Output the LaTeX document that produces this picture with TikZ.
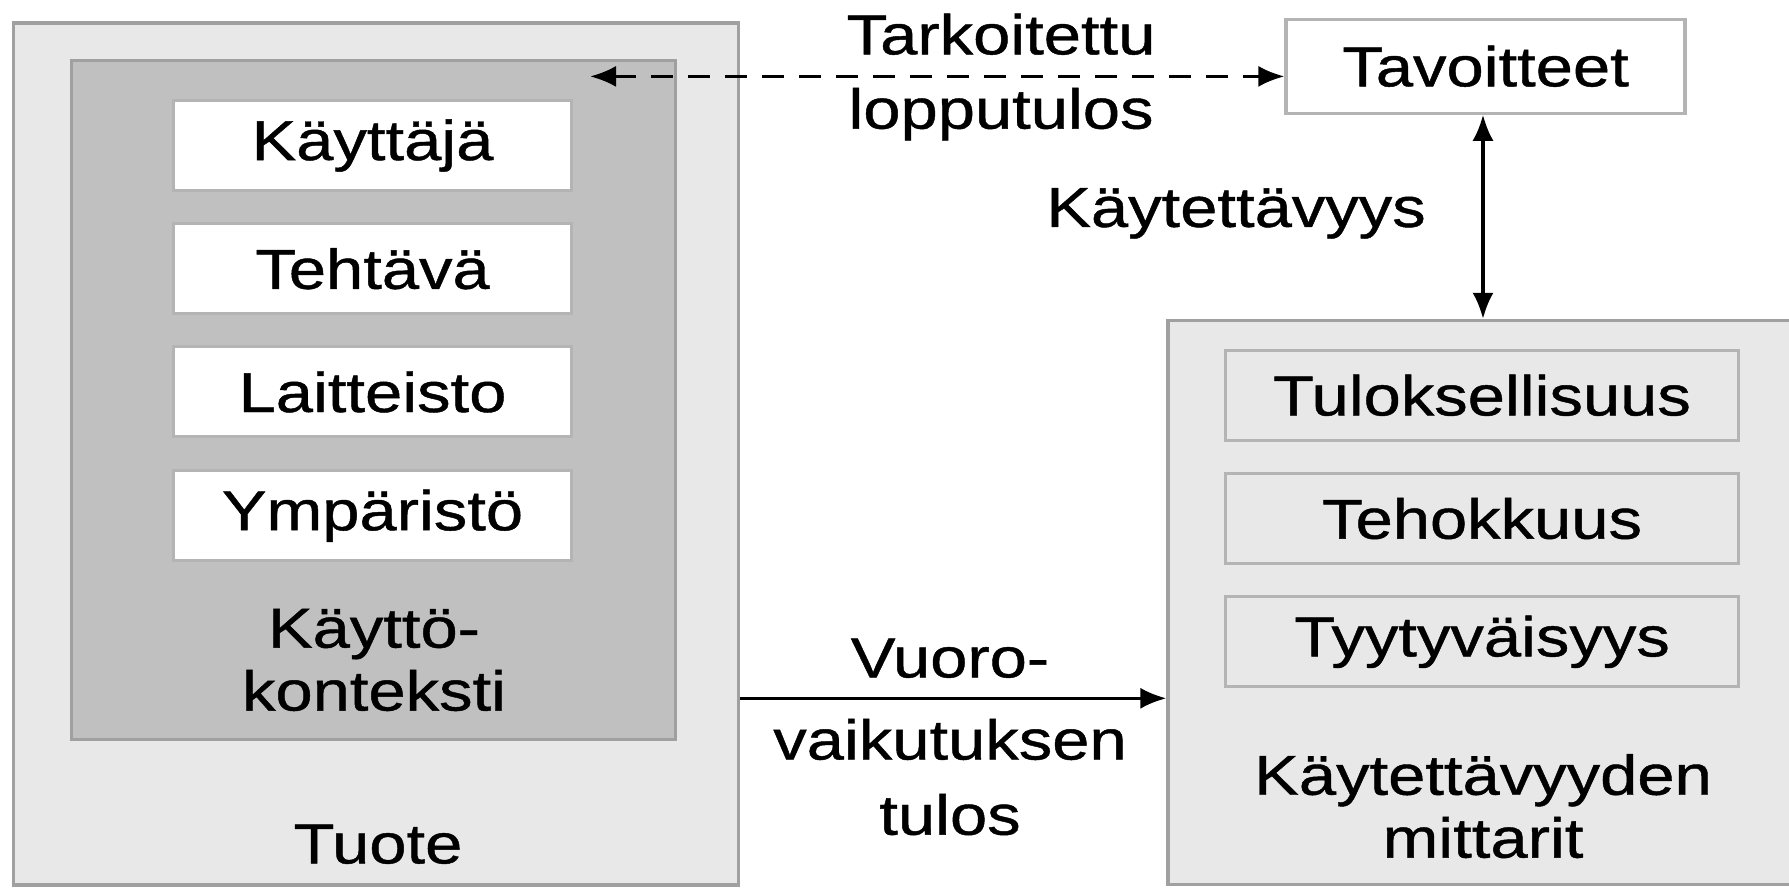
\documentclass[tikz,border=0pt]{standalone}
\usepackage{fontspec}
\setmainfont{Liberation Sans}[FakeStretch=1.19, FakeBold=0.8]
\usetikzlibrary{arrows.meta}

\definecolor{boxline}{HTML}{A0A0A0}
\definecolor{itemline}{HTML}{B4B4B4}
\definecolor{lightfill}{HTML}{E8E8E8}
\definecolor{darkfill}{HTML}{C0C0C0}

\tikzset{
  every node/.style={font=\fontsize{16}{17.9}\selectfont, inner sep=0pt},
  frame/.style={draw=boxline, line width=0.9pt, minimum width=#1},
  item/.style={draw=itemline, line width=0.9pt, minimum height=0.9cm},
  link/.style={line width=0.9pt, >={Latex[length=2.6mm, width=2.1mm]}},
}

\begin{document}
\begin{tikzpicture}
\useasboundingbox (0,0) rectangle (17.89,8.88);
% containers
\node[frame=7.25cm, fill=lightfill, minimum height=8.62cm] (tuote) at (3.763,4.34) {};
\node[frame=6.04cm, fill=darkfill, minimum height=6.79cm] (konteksti) at (3.737,4.881) {};
\node[frame=6.42cm, fill=lightfill, minimum height=5.64cm] (mittarit) at (14.89,2.856) {};
\node[draw=itemline, line width=0.9pt, fill=white, minimum width=3.99cm, minimum height=0.94cm] (tavoitteet) at (14.855,8.218) {Tavoitteet};

% context items
\foreach \name/\txt/\y in {kayttaja/Käyttäjä/7.425, tehtava/Tehtävä/6.193,
    laitteisto/Laitteisto/4.961, ymparisto/Ympäristö/3.723}
  \node[item, fill=white, minimum width=3.98cm] (\name) at (3.725,\y) {\txt};
\node[align=center] (kontekstilabel) at (3.74,2.28) {Käyttö-\\konteksti};
\node (tuotelabel) at (3.78,0.437) {Tuote};

% measures
\foreach \name/\txt/\y in {tulos/Tuloksellisuus/4.927, teho/Tehokkuus/3.694,
    tyyty/Tyytyväisyys/2.462}
  \node[item, fill=lightfill, minimum width=5.13cm] (\name) at (14.82,\y) {\txt};
\node[align=center] (mittarilabel) at (14.83,0.819) {Käytettävyyden\\mittarit};

% connectors
\coordinate (dashend) at (5.90,8.116);
\draw[link, <->, dash pattern=on 2.2mm off 1.5mm]
  (dashend) -- (tavoitteet.west |- dashend);
\node (tark) at (10.01,8.538) {Tarkoitettu};
\node (loppu) at (10.01,7.739) {lopputulos};

\draw[link, <->] (tavoitteet.south -| 14.83,0) -- (mittarit.north -| 14.83,0);
\node (kaytettavyys) at (12.36,6.746) {Käytettävyys};

\draw[link, ->] (tuote.east |- 0,1.897) -- (mittarit.west |- 0,1.897);
\node (vuoro) at (9.5,2.297) {Vuoro-};
\node[align=center, font=\fontsize{16}{21.4}\selectfont] (vaikutus) at (9.5,1.11) {vaikutuksen\\tulos};
\end{tikzpicture}
\end{document}
